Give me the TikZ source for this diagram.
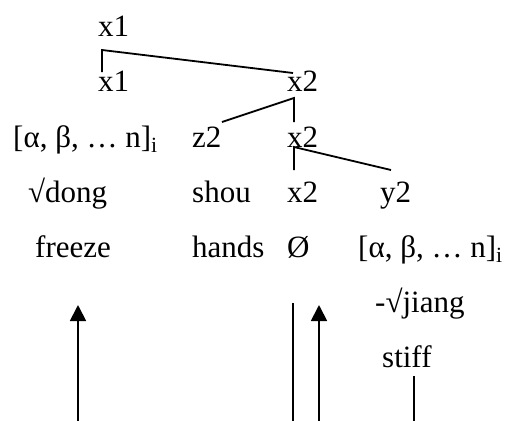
\documentclass[tikz,border=0pt]{standalone}
\usepackage{fontspec}
\setmainfont{Liberation Serif}
\usetikzlibrary{arrows.meta}
\begin{document}
\begin{tikzpicture}[x=1pt,y=-1pt,
  lbl/.style={anchor=base west,inner sep=0pt,font=\fontsize{31}{37}\selectfont},
  branch/.style={line width=1.8pt},
  uparrow/.style={line width=1.8pt,-{Triangle[length=16pt,width=16pt]}}]
\useasboundingbox (0,0) rectangle (507,421);
% labels
\node[lbl] (a1) at (98,36) {x1};
\node[lbl] (b1) at (98,91) {x1};
\node[lbl] (b2) at (287,91) {x2};
\node[lbl] (c1) at (13,147) {[α, β, … n]\textsubscript{i}};
\node[lbl] (c2) at (192,147) {z2};
\node[lbl] (c3) at (287,147) {x2};
\node[lbl] (d1) at (28,202) {√dong};
\node[lbl] (d2) at (192,202) {shou};
\node[lbl] (d3) at (287,202) {x2};
\node[lbl] (d4) at (380,202) {y2};
\node[lbl] (e1) at (35,257) {freeze};
\node[lbl] (e2) at (192,257) {hands};
\node[lbl] (e3) at (287,257) {Ø};
\node[lbl] (e4) at (358,257) {[α, β, … n]\textsubscript{i}};
\node[lbl] (f4) at (375,312) {-√jiang};
\node[lbl] (g4) at (382,367) {stiff};
% branch points
\coordinate (t1) at (102,50);
\coordinate (t1a) at (102,72);
\coordinate (t1b) at (293,73);
\coordinate (t2) at (294,98);
\coordinate (t2a) at (222,122);
\coordinate (t2b) at (294,122);
\coordinate (t3) at (294,147);
\coordinate (t3a) at (294,170);
\coordinate (t3b) at (391,170);
\draw[branch] (t1a) -- (t1) -- (t1b);
\draw[branch] (t2a) -- (t2) -- (t2b);
\draw[branch] (t3a) -- (t3) -- (t3b);
% bottom lines and arrows
\coordinate (p1) at (78,421);
\coordinate (q1) at (78,305);
\coordinate (p2) at (319,421);
\coordinate (q2) at (319,305);
\coordinate (p3) at (293,421);
\coordinate (q3) at (293,303);
\coordinate (p4) at (414,421);
\coordinate (q4) at (414,376);
\draw[uparrow] (p1) -- (q1);
\draw[uparrow] (p2) -- (q2);
\draw[branch] (p3) -- (q3);
\draw[branch] (p4) -- (q4);
\end{tikzpicture}
\end{document}
